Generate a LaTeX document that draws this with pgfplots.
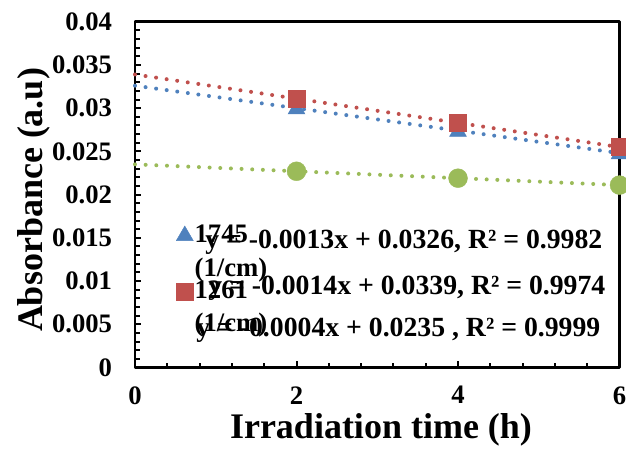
\documentclass[border=0pt]{standalone}
\usepackage{fontspec}
\setmainfont{Liberation Serif}
\usepackage{pgfplots}
\pgfplotsset{compat=1.18}
\definecolor{xlBlue}{HTML}{4F81BD}
\definecolor{xlRed}{HTML}{C0504D}
\definecolor{xlGreen}{HTML}{9BBB59}
\newcommand{\tk}{\fontsize{20}{25}\selectfont\bfseries}
\newcommand{\eq}{\fontsize{20.8}{25}\selectfont\bfseries}
\newcommand{\lb}{\fontsize{27}{32}\selectfont\bfseries}
\tikzset{
  trend/.style={line width=3pt, dash pattern=on 0pt off 8pt, line cap=round},
}
\pgfplotsset{
  mk/.style={only marks, mark options={solid, line width=0.3pt},
    legend image code/.code={\draw[mark repeat=2, mark phase=2, ##1]
      plot coordinates {(0cm,12pt) (0.3cm,12pt) (0.6cm,12pt)};}},
}
\begin{document}
\begin{tikzpicture}
\begin{axis}[
  scale only axis, width=363.4pt, height=259.3pt,
  xmin=0, xmax=6, ymin=0, ymax=0.04, clip=false,
  xtick={0,2,4,6}, xticklabels={0,2,4,6},
  ytick={0,0.005,0.01,0.015,0.02,0.025,0.03,0.035,0.04},
  yticklabels={0,0.005,0.01,0.015,0.02,0.025,0.03,0.035,0.04},
  scaled y ticks=false,
  minor x tick num=4, minor y tick num=4,
  tick align=inside, xtick pos=bottom, ytick pos=left,
  axis line style={line width=2.2pt, line join=round},
  tick style={black, line width=1.5pt},
  major tick length=4.5pt, minor tick length=3.5pt,
  tick label style={font=\tk},
  yticklabel style={anchor=east, inner sep=0pt, xshift=-17pt},
  xticklabel style={anchor=north, inner sep=0pt, yshift=-14pt},
  xlabel={Irradiation time (h)}, ylabel={Absorbance (a.u)},
  xlabel style={font=\lb, at={(axis description cs:0.5077,-0.2068)}, anchor=base},
  ylabel style={font=\lb, at={(axis description cs:-0.1900,0.4844)}, anchor=base},
  legend style={at={(axis cs:0.458,0.01695)}, anchor=north west, draw=none, fill=none,
    font=\tk, nodes={align=left, inner sep=1pt}, row sep=0pt},
  legend cell align=left,
]
\addplot[mk, mark=triangle*, mark size=7.3pt, color=xlBlue] coordinates {(2,0.0299) (4,0.0273) (6,0.0247)};
\addlegendentry{1745\\(1/cm)}
\addplot[mk, mark=square*, mark size=6.4pt, color=xlRed] coordinates {(2,0.0311) (4,0.0283) (6,0.0255)};
\addlegendentry{1261\\(1/cm)}
\addplot[mk, mark=*, mark size=7.1pt, color=xlGreen, forget plot] coordinates {(2,0.0227) (4,0.0219) (6,0.0211)};
% linear trendlines
\addplot[trend, xlBlue, forget plot] coordinates {(0,0.0326) (6,0.0248)};
\addplot[trend, xlRed, forget plot] coordinates {(0,0.0339) (6,0.0255)};
\addplot[trend, xlGreen, forget plot] coordinates {(0,0.0235) (6,0.0211)};
\node[anchor=base east, font=\eq] at (axis cs:5.845,0.01371) {y = -0.0013x + 0.0326, R² = 0.9982};
\node[anchor=base east, font=\eq] at (axis cs:5.882,0.00839) {y = -0.0014x + 0.0339, R² = 0.9974};
\node[anchor=base east, font=\eq] at (axis cs:5.820,0.00353) {y = -0.0004x + 0.0235 , R² = 0.9999};
\end{axis}
\pgfresetboundingbox
\path[use as bounding box] (-101.25pt,-69.4pt) rectangle (368.25pt,275.6pt);
\end{tikzpicture}
\end{document}
